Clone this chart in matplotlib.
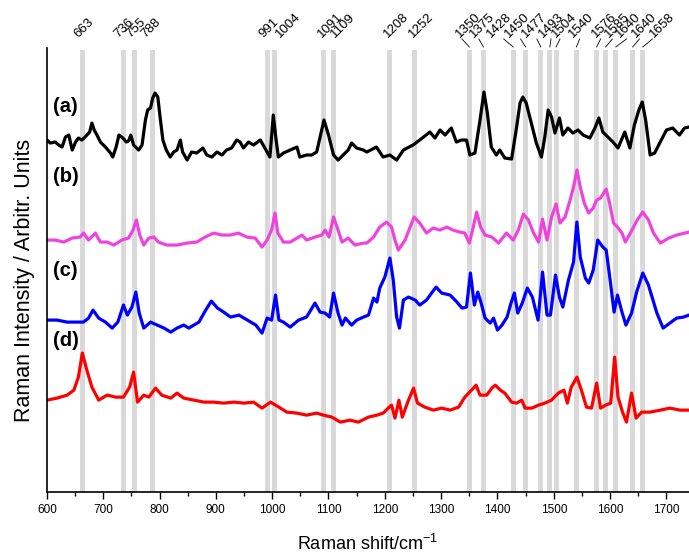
import matplotlib
matplotlib.use("Agg")
import matplotlib.pyplot as plt

plt.rcParams['font.family'] = ['Liberation Sans', 'DejaVu Sans']
plt.rcParams['mathtext.fontset'] = 'custom'
plt.rcParams['mathtext.rm'] = 'Liberation Sans'

# spectrum (a)
wn_a = [600, 606, 615, 621, 627, 633, 639, 645, 651, 656, 662, 668, 676, 680, 684, 689, 695, 704, 713, 717,
        723, 728, 735, 741, 745, 749, 754, 763, 769, 775, 779, 784, 788, 792, 797, 801, 806, 812, 819, 825,
        831, 837, 841, 849, 857, 866, 877, 884, 893, 902, 911, 919, 928, 937,
        943, 949, 958, 967, 979, 987, 996, 1002, 1007, 1011, 1020, 1032, 1044, 1049, 1061, 1070, 1079,
        1085, 1092, 1100, 1109, 1117, 1126, 1135, 1141, 1150, 1162, 1168, 1185, 1197, 1209, 1221, 1233, 1250,
        1262, 1280, 1289, 1298, 1307, 1318, 1327, 1336, 1345, 1351, 1360, 1369, 1376, 1382, 1389, 1398, 1404,
        1413, 1425, 1434, 1440, 1445, 1451, 1460, 1469, 1478, 1484, 1490, 1496, 1502, 1510, 1516, 1525, 1534,
        1543, 1552, 1564, 1573, 1580, 1587, 1596, 1605, 1614, 1626, 1635, 1643, 1651, 1657, 1663, 1671, 1679,
        1688, 1700, 1711, 1723, 1732, 1740]
int_a = [352, 349, 350, 347, 345, 355, 357, 342, 350, 354, 352, 355, 360, 369, 362, 357, 350, 345, 339, 335,
         345, 357, 354, 350, 351, 357, 347, 342, 347, 372, 382, 384, 394, 399, 395, 375, 352, 342, 335, 340,
         342, 352, 340, 332, 340, 339, 344, 337, 335, 340, 337, 342, 344, 352,
         350, 344, 350, 347, 352, 344, 335, 377, 352, 335, 339, 342, 345, 335, 337, 337, 340,
         355, 372, 357, 337, 332, 337, 342, 349, 344, 342, 340, 345, 335, 337, 332, 342, 347,
         352, 360, 354, 362, 357, 364, 350, 352, 352, 337, 339, 372, 400, 379, 345, 337, 342,
         334, 333, 365, 389, 395, 389, 369, 349, 335, 355, 382, 375, 359, 374, 357, 364, 359,
         362, 357, 354, 364, 374, 360, 355, 350, 344, 360, 344, 367, 382, 390, 372, 337, 339,
         349, 362, 364, 357, 364, 365]

# spectrum (b)
wn_b = [600, 615, 630, 645, 659, 665, 674, 686, 695, 707, 719, 733, 745, 753, 759, 765, 772, 781, 790, 798,
        813, 831, 849, 866, 881, 896, 911, 926, 940, 955, 970, 982, 991, 999, 1005, 1010, 1020, 1032, 1044,
        1053, 1061, 1076, 1088, 1094, 1101, 1109, 1117, 1124, 1135, 1147, 1162, 1168, 1180, 1191, 1203, 1212,
        1218, 1224, 1236, 1245, 1252, 1262, 1274, 1286, 1298, 1310, 1321, 1333, 1342, 1350, 1357, 1363, 1370,
        1378, 1390, 1402, 1416, 1428, 1437, 1446, 1455, 1464, 1473, 1480, 1488, 1496, 1504, 1511, 1520, 1529,
        1535, 1541, 1547, 1554, 1562, 1570, 1576, 1583, 1593, 1599, 1606, 1613, 1621, 1627, 1636, 1648, 1658,
        1668, 1677, 1689, 1704, 1718, 1740]
int_b = [252, 252, 250, 254, 255, 259, 252, 259, 250, 250, 247, 252, 254, 262, 272, 257, 247, 254, 255, 250,
         247, 247, 249, 250, 255, 259, 257, 257, 259, 255, 254, 245, 252, 262, 279, 259, 250, 250, 254,
         257, 252, 255, 257, 262, 255, 275, 262, 250, 254, 247, 249, 249, 255, 265, 270, 265,
         252, 242, 252, 265, 275, 269, 259, 264, 262, 265, 262, 260, 259, 249, 265, 280, 265,
         257, 255, 249, 259, 252, 262, 278, 272, 259, 250, 273, 252, 275, 288, 269, 275, 292,
         305, 322, 305, 289, 279, 284, 292, 294, 303, 289, 269, 265, 259, 250, 259, 272, 280,
         272, 259, 249, 254, 257, 260]

# spectrum (c)
wn_c = [600, 618, 636, 653, 665, 674, 682, 692, 704, 716, 726, 736, 743, 751, 758, 764, 772, 784, 796, 808,
        820, 831, 843, 852, 861, 870, 882, 892, 903, 914, 926, 941, 956, 971, 982, 991, 999, 1006, 1012, 1020,
        1032, 1047, 1061, 1076, 1085, 1094, 1102, 1109, 1117, 1124, 1130, 1141, 1150, 1162, 1171, 1180, 1186,
        1191, 1200, 1209, 1215, 1221, 1226, 1233, 1242, 1254, 1262, 1274, 1283, 1291, 1301, 1316, 1328, 1337,
        1345, 1352, 1359, 1365, 1371, 1378, 1387, 1393, 1400, 1408, 1417, 1424, 1430, 1436, 1444, 1453, 1462,
        1472, 1480, 1488, 1494, 1503, 1510, 1516, 1526, 1535, 1541, 1547, 1556, 1562, 1570, 1578, 1587, 1593,
        1600, 1607, 1613, 1621, 1628, 1638, 1647, 1658, 1668, 1683, 1694, 1706, 1718, 1730, 1740]
int_c = [172, 172, 170, 170, 170, 174, 182, 174, 170, 164, 170, 187, 177, 185, 200, 179, 164, 170, 167, 164,
         160, 164, 167, 164, 167, 170, 182, 191, 184, 180, 175, 177, 172, 167, 159, 174, 172, 197, 172, 170,
         165, 172, 175, 189, 180, 179, 175, 199, 179, 167, 174, 167, 172, 175, 177, 194, 190,
         204, 215, 234, 212, 175, 164, 192, 195, 192, 187, 192, 199, 205, 199, 197, 190, 184,
         185, 219, 187, 200, 189, 174, 169, 174, 162, 167, 175, 189, 199, 179, 189, 204, 195,
         172, 220, 177, 177, 217, 195, 185, 212, 230, 270, 235, 214, 209, 222, 252, 245, 242,
         212, 180, 197, 180, 167, 179, 200, 219, 207, 179, 164, 169, 174, 175, 177]

# spectrum (d)
wn_d = [600, 618, 636, 648, 656, 663, 671, 680, 692, 707, 722, 736, 747, 754, 761, 772, 781, 793, 804, 820,
        831, 843, 861, 879, 896, 914, 932, 950, 967, 982, 997, 1012, 1026, 1044, 1061, 1079, 1091, 1106, 1121,
        1138, 1153, 1171, 1186, 1197, 1206, 1212, 1218, 1225, 1231, 1242, 1251, 1258, 1271, 1286, 1301, 1316,
        1331, 1342, 1354, 1362, 1369, 1381, 1390, 1396, 1405, 1413, 1425, 1434, 1443, 1449, 1461, 1473, 1484,
        1496, 1508, 1518, 1524, 1531, 1541, 1549, 1558, 1567, 1576, 1583, 1592, 1601, 1608, 1614, 1622, 1629,
        1638, 1646, 1656, 1671, 1689, 1706, 1724, 1740]
int_d = [92, 94, 97, 102, 115, 139, 122, 105, 92, 97, 95, 95, 105, 120, 90, 97, 95, 104, 97, 94,
         99, 94, 92, 90, 90, 89, 90, 89, 90, 84, 90, 85, 80, 79, 77, 79, 77, 75, 70,
         72, 70, 75, 77, 79, 84, 87, 74, 92, 75, 92, 104, 89, 85, 82, 84, 82,
         85, 95, 102, 107, 97, 97, 104, 107, 102, 99, 90, 89, 92, 84, 84, 87, 89,
         92, 99, 102, 89, 105, 115, 102, 85, 84, 109, 84, 87, 89, 135, 95, 80, 70,
         99, 74, 80, 80, 82, 84, 82, 82]

band_pos = [663, 736, 755, 788, 991, 1004, 1091, 1109, 1208, 1252, 1350, 1375, 1428, 1450, 1477, 1493, 1504,
            1540, 1576, 1592, 1610, 1640, 1658]
band_text = ['663', '736', '755', '788', '991', '1004', '1091', '1109', '1208', '1252', '1350', '1375', '1428',
             '1450', '1477', '1493', '1504', '1540', '1576', '1585', '1640', '1640', '1658']
# anchor (lower-left) of each rotated label
label_x = [659, 730, 752, 778, 988, 1018, 1092, 1115, 1210, 1254, 1337, 1362, 1393, 1425, 1455, 1484, 1508,
           1537, 1579, 1601, 1622, 1650, 1681]
# leader lines for the crowded labels (start x; None = no leader)
leader_x = [None] * 10 + [1337, 1367, 1411, 1441, 1470, 1495, 1511, 1546, 1583, 1604, 1629, 1652, 1675]

fig = plt.figure(figsize=(6.89, 5.58), dpi=100)
ax = fig.add_axes([0.068, 0.118, 0.932, 0.796])

for w in band_pos:
    ax.axvspan(w - 4.5, w + 4.5, ymax=0.995, color='#d9d9d9', lw=0, zorder=0)

ax.plot(wn_a, int_a, color='black', lw=2.3)
ax.plot(wn_b, int_b, color='#ee44dd', lw=2.3)
ax.plot(wn_c, int_c, color='#0000ff', lw=2.3)
ax.plot(wn_d, int_d, color='#ff0000', lw=2.3)

for txt, yy in zip(['(a)', '(b)', '(c)', '(d)'], [386, 316, 222, 152]):
    ax.text(611, yy, txt, fontsize=14.5, fontweight='bold', ha='left', va='center')

for i, txt in enumerate(band_text):
    ax.text(label_x[i], 452, txt, rotation=45, rotation_mode='anchor', ha='left', va='bottom',
            fontsize=9.5, clip_on=False)
    if leader_x[i] is not None:
        ax.plot([leader_x[i], band_pos[i]], [453, 445], color='black', lw=0.6, clip_on=False)

ax.set_xlim(600, 1740)
ax.set_ylim(0, 444)
ax.set_xticks(range(600, 1701, 100))
ax.set_xticks(range(650, 1701, 100), minor=True)
ax.tick_params(axis='x', which='major', length=5, width=1, labelsize=8.5)
ax.tick_params(axis='x', which='minor', length=3, width=1)
ax.set_yticks([])
ax.spines['top'].set_visible(False)
ax.spines['right'].set_visible(False)
ax.spines['left'].set_linewidth(1.2)
ax.spines['bottom'].set_linewidth(1.2)
ax.set_xlabel('Raman shift/cm$^{-1}$', fontsize=13, labelpad=13)
ax.set_ylabel('Raman Intensity / Arbitr. Units', fontsize=15.5)
ax.yaxis.set_label_coords(-0.019, 0.477)

fig.savefig('out.png', dpi=100)
